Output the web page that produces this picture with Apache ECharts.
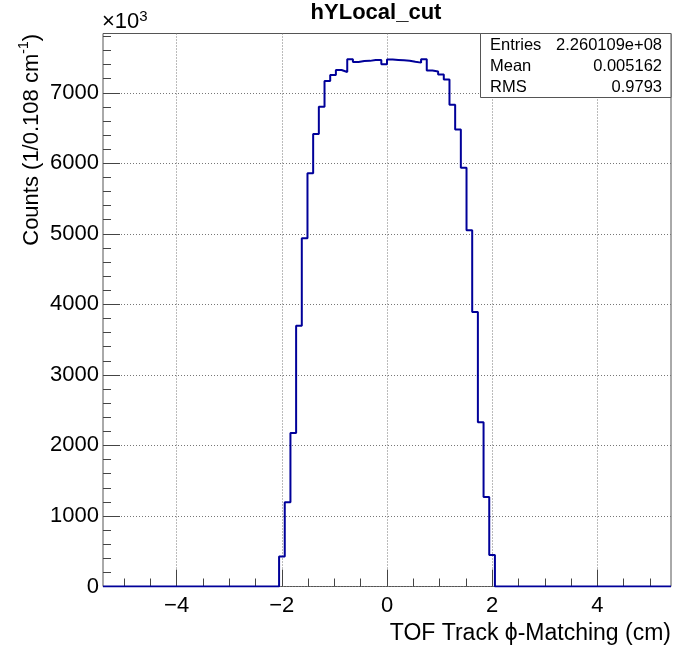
<!DOCTYPE html>
<html><head><meta charset="utf-8">
<script src="https://cdn.jsdelivr.net/npm/echarts@6/dist/echarts.min.js"></script>
<style>html,body{margin:0;padding:0;background:#fff}#c{width:675px;height:648px}</style>
</head><body><div id="c"></div>
<script>
// Histogram definition: 100 bins from -5.4 to 5.4 (width 0.108)
const xLow = -5.4, xHigh = 5.4, binWidth = 0.108;
// bin contents in units of 10^3 counts
const counts = [
  0,0,0,0,0,0,0,0,0,0,
  0,0,0,0,0,0,0,0,0,0,
  0,0,0,0,0,0,0,0,0,0,
  0,425,1195,2175,3698,4937,5857,6415,6800,7167,
  7252,7323,7295,7474,7436,7450,7452,7464,7464,7405,
  7470,7465,7460,7455,7440,7427,7474,7314,7300,7258,
  7187,6830,6480,5937,5050,3890,2330,1270,445,0,
  0,0,0,0,0,0,0,0,0,0,
  0,0,0,0,0,0,0,0,0,0,
  0,0,0,0,0,0,0,0,0,0
];
const xMajorTicks = [-4, -2, 0, 2, 4];
const xMinorTicks = [-5, -4.5, -3.5, -3, -2.5, -1.5, -1, -0.5, 0.5, 1, 1.5, 2.5, 3, 3.5, 4.5, 5];
const yMax = 7840;
const yMajorTicks = [0, 1000, 2000, 3000, 4000, 5000, 6000, 7000];
const yMinorTicks = [200,400,600,800,1200,1400,1600,1800,2200,2400,2600,2800,3200,3400,3600,3800,
  4200,4400,4600,4800,5200,5400,5600,5800,6200,6400,6600,6800,7200,7400,7600,7800];
const titleText = 'hYLocal_cut';
const xTitle = 'TOF Track \u03D5-Matching (cm)';
const statsLabels = ['Entries', 'Mean', 'RMS'];
const statsValues = ['2.260109e+08', '0.005162', '0.9793'];

const FONT = 'Liberation Sans, Arial, Helvetica, sans-serif';
const histData = counts.map((v, i) => [xLow + i * binWidth, v]);
histData.push([xHigh, counts[counts.length - 1]]);

const chart = echarts.init(document.getElementById('c'), null, {renderer: 'canvas'});
const gridL = 103, gridT = 33.5, gridR = 4, gridB = 61.5;
const minus = v => String(v).replace('-', '\u2212');
const plain = v => String(v);

const statsTexts = [];
statsLabels.forEach((lab, i) => {
  statsTexts.push({type: 'text', z: 20, x: 490, y: 45 + i * 21, style: {text: lab, font: '16.5px ' + FONT, fill: '#000', textAlign: 'left', textVerticalAlign: 'middle'}});
  statsTexts.push({type: 'text', z: 20, x: 662, y: 45 + i * 21, style: {text: statsValues[i], font: '16.5px ' + FONT, fill: '#000', textAlign: 'right', textVerticalAlign: 'middle'}});
});

const tickStyle = {color: '#444', width: 1};
chart.setOption({
  animation: false,
  backgroundColor: '#fff',
  grid: {left: gridL, top: gridT, right: gridR, bottom: gridB, show: true, borderColor: '#555', borderWidth: 1, containLabel: false},
  xAxis: [
    {type: 'value', min: xLow, max: xHigh, position: 'bottom',
      axisLine: {show: false, onZero: false},
      axisTick: {show: true, inside: true, length: 17, customValues: xMajorTicks, lineStyle: tickStyle},
      axisLabel: {show: true, customValues: xMajorTicks, formatter: minus, fontSize: 22, fontFamily: FONT, color: '#000', margin: 8},
      splitLine: {show: true, lineStyle: {type: [1, 2], color: '#777', width: 1}}
    },
    {type: 'value', min: xLow, max: xHigh, position: 'bottom',
      axisLine: {show: false, onZero: false},
      axisTick: {show: true, inside: true, length: 8, customValues: xMinorTicks, lineStyle: tickStyle},
      axisLabel: {show: false},
      splitLine: {show: false}
    }
  ],
  yAxis: [
    {type: 'value', min: 0, max: yMax, position: 'left',
      axisLine: {show: false, onZero: false},
      axisTick: {show: true, inside: true, length: 17, customValues: yMajorTicks, lineStyle: tickStyle},
      axisLabel: {show: true, customValues: yMajorTicks, formatter: plain, fontSize: 22, fontFamily: FONT, color: '#000', margin: 4},
      splitLine: {show: true, lineStyle: {type: [1, 2], color: '#777', width: 1}}
    },
    {type: 'value', min: 0, max: yMax, position: 'left',
      axisLine: {show: false, onZero: false},
      axisTick: {show: true, inside: true, length: 8, customValues: yMinorTicks, lineStyle: tickStyle},
      axisLabel: {show: false},
      splitLine: {show: false}
    }
  ],
  series: [{
    type: 'line', step: 'end', data: histData, xAxisIndex: 0, yAxisIndex: 0,
    symbol: 'none', clip: true, z: 5,
    lineStyle: {color: '#000099', width: 2}
  }],
  graphic: [
    {type: 'text', x: 376, y: 13, style: {text: titleText, font: 'bold 22px ' + FONT, fill: '#000', textAlign: 'center', textVerticalAlign: 'middle'}},
    {type: 'text', x: 102, y: 21, style: {
      text: '{a|\u00D710}{b|3}', textAlign: 'left', textVerticalAlign: 'middle',
      rich: {a: {fontSize: 22, fontFamily: FONT, fill: '#000', verticalAlign: 'bottom', lineHeight: 24},
             b: {fontSize: 15, fontFamily: FONT, fill: '#000', verticalAlign: 'top', lineHeight: 24}}
    }},
    {type: 'text', x: 30, y: 34, rotation: Math.PI / 2, style: {
      text: '{a|Counts (1/0.108 cm}{b|-1}{a|)}', textAlign: 'right', textVerticalAlign: 'middle',
      rich: {a: {fontSize: 22, fontFamily: FONT, fill: '#000', verticalAlign: 'bottom', lineHeight: 26},
             b: {fontSize: 14, fontFamily: FONT, fill: '#000', verticalAlign: 'top', lineHeight: 26}}
    }},
    {type: 'text', x: 671, y: 634, style: {text: xTitle, font: '23px ' + FONT, fill: '#000', textAlign: 'right', textVerticalAlign: 'middle'}},
    {type: 'rect', z: 10, shape: {x: 480.5, y: 33.5, width: 190.5, height: 64}, style: {fill: '#fff', stroke: '#555', lineWidth: 1}}
  ].concat(statsTexts)
});
</script>
</body></html>
